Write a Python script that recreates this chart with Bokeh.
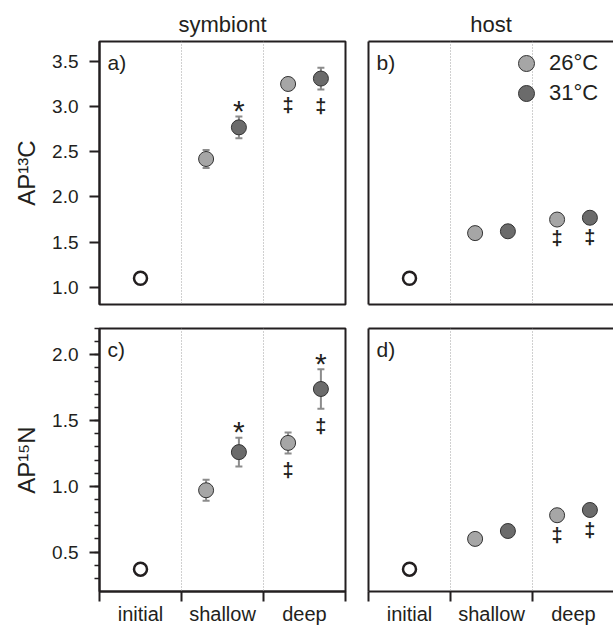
from bokeh.plotting import figure
from bokeh.layouts import column, row
from bokeh.models import (Range1d, Span, Label, LinearAxis, FixedTicker, PrintfTickFormatter,
                          SingleIntervalTicker, Legend, LegendItem)
from bokeh.core.properties import value
from bokeh.embed import file_html
from bokeh.resources import INLINE

# ---------------- data ----------------
groups = ["initial", "shallow", "deep"]
temps = ["26°C", "31°C"]
compartments = ["symbiont", "host"]
panel_tags = ["a)", "b)", "c)", "d)"]
ylabels = ["AP¹³C", "AP¹⁵N"]

# AP13C, symbiont (shallow, deep)
c_sym_initial = 1.10
c_sym_26 = [2.42, 3.25]
c_sym_26_err = [0.10, 0.04]
c_sym_31 = [2.77, 3.31]
c_sym_31_err = [0.12, 0.12]
# AP13C, host
c_host_initial = 1.10
c_host_26 = [1.60, 1.75]
c_host_26_err = [0.02, 0.02]
c_host_31 = [1.62, 1.77]
c_host_31_err = [0.02, 0.02]
# AP15N, symbiont
n_sym_initial = 0.37
n_sym_26 = [0.97, 1.33]
n_sym_26_err = [0.08, 0.08]
n_sym_31 = [1.26, 1.74]
n_sym_31_err = [0.11, 0.15]
# AP15N, host
n_host_initial = 0.37
n_host_26 = [0.60, 0.78]
n_host_26_err = [0.02, 0.02]
n_host_31 = [0.66, 0.82]
n_host_31_err = [0.02, 0.02]

# significance marks (shallow, deep): * = 31 vs 26, ‡ = deep vs shallow
c_sym_star31 = ["*", ""]
c_sym_dag26 = ["", "‡"]
c_sym_dag31 = ["", "‡"]
c_host_star31 = ["", ""]
c_host_dag26 = ["", "‡"]
c_host_dag31 = ["", "‡"]
n_sym_star31 = ["*", "*"]
n_sym_dag26 = ["", "‡"]
n_sym_dag31 = ["", "‡"]
n_host_star31 = ["", ""]
n_host_dag26 = ["", "‡"]
n_host_dag31 = ["", "‡"]

c_yrange = (0.81, 3.72)
n_yrange = (0.20, 2.20)

# ---------------- style ----------------
FONT = "Liberation Sans"
INK = "#231f20"
FILL26 = "#a6a6a6"
FILL31 = "#6b6b6b"
ERRC = "#8c8c8c"
DOT = "#a0a0a0"
OFFSET = 0.2
GROUP_PX = 82
FRAME_H = 263


def line_axis():
    return LinearAxis(ticker=FixedTicker(ticks=[]), axis_line_color=INK, axis_line_width=2,
                      major_tick_out=0, major_tick_in=0, minor_tick_out=0, minor_tick_in=0,
                      major_label_standoff=0, major_label_text_font_size="0px")


def make_panel(initial, m26, e26, m31, e31, star31, dag26, dag31, yr, left, top, tag,
               title, ylabel, minor, frame_w):
    p = figure(frame_width=frame_w, frame_height=FRAME_H,
               x_range=Range1d(0, frame_w / GROUP_PX), y_range=Range1d(*yr),
               output_backend="svg", toolbar_location=None,
               x_axis_location=None, y_axis_location=None,
               min_border_left=99 if left else 13, min_border_right=10 if left else 0,
               min_border_top=41 if top else 12, min_border_bottom=12 if top else 35)
    p.grid.visible = False
    p.background_fill_color = "white"
    p.border_fill_color = "white"
    if left:
        p.outline_line_color = INK
        p.outline_line_width = 2
    else:
        p.outline_line_color = None
        p.add_layout(line_axis(), "left")
        p.add_layout(line_axis(), "above")
        if top:
            p.add_layout(line_axis(), "below")

    if top:
        p.title.text = title
        p.title.align = "center"
        p.title.text_font = FONT
        p.title.text_font_size = "22px"
        p.title.text_font_style = "normal"
        p.title.text_color = INK
        p.title.standoff = 9

    if left:
        yax = LinearAxis(
            ticker=SingleIntervalTicker(interval=0.5, num_minor_ticks=5),
            formatter=PrintfTickFormatter(format="%.1f"),
            axis_label=ylabel, axis_label_text_font=FONT, axis_label_text_font_size="24px",
            axis_label_text_font_style="normal", axis_label_text_color=INK,
            axis_label_standoff=9,
            major_label_text_font=FONT, major_label_text_font_size="19px",
            major_label_text_color=INK, major_label_standoff=11,
            major_tick_out=10, major_tick_in=0, major_tick_line_width=2,
            major_tick_line_color=INK,
            minor_tick_out=5, minor_tick_in=0, minor_tick_line_width=1.5,
            minor_tick_line_color=INK if minor else None,
            axis_line_color=INK, axis_line_width=2)
        p.add_layout(yax, "left")

    nb = len(groups)
    if not top:
        centers = [i + 0.5 for i in range(nb)]
        xax = LinearAxis(ticker=FixedTicker(ticks=centers, minor_ticks=list(range(nb + 1))),
                         major_label_overrides={c: g for c, g in zip(centers, groups)},
                         axis_line_color=INK, axis_line_width=2,
                         major_tick_out=0, major_tick_in=0, major_tick_line_color=None,
                         minor_tick_out=10, minor_tick_in=0, minor_tick_line_width=2,
                         minor_tick_line_color=INK,
                         major_label_text_font=FONT, major_label_text_font_size="20px",
                         major_label_text_color=INK, major_label_standoff=1)
        p.add_layout(xax, "below")

    for b in range(1, nb):
        p.add_layout(Span(location=b, dimension="height", line_color=DOT,
                          line_dash="1 2", line_width=1))

    x26 = [i + 0.5 - OFFSET for i in range(1, nb)]
    x31 = [i + 0.5 + OFFSET for i in range(1, nb)]

    for xs, m, e in ((x26, m26, e26), (x31, m31, e31)):
        lo = [a - b for a, b in zip(m, e)]
        hi = [a + b for a, b in zip(m, e)]
        p.segment(x0=xs, y0=lo, x1=xs, y1=hi, line_color=ERRC, line_width=2)
        p.scatter(x=xs + xs, y=lo + hi, marker="dash", size=7, line_color=ERRC,
                  line_width=2)

    p.scatter(x=[0.5], y=[initial], size=13, fill_color="white", line_color=INK,
              line_width=2.5)
    r26 = p.scatter(x=x26, y=m26, size=15, fill_color=FILL26, line_color="#333333",
                    line_width=1)
    r31 = p.scatter(x=x31, y=m31, size=15, fill_color=FILL31, line_color="#333333",
                    line_width=1)

    # significance marks
    p.text(x=x31, y=[a + b for a, b in zip(m31, e31)], text=star31,
           text_align="center", text_baseline="middle", y_offset=-6,
           text_font=value(FONT), text_font_size="30px", text_color=INK)
    for xs, m, e, marks in ((x26, m26, e26, dag26), (x31, m31, e31, dag31)):
        p.text(x=xs, y=[a - b for a, b in zip(m, e)], text=marks,
               text_align="center", text_baseline="middle", y_offset=17,
               text_font=value(FONT), text_font_size="20px", text_font_style="bold",
               text_color=INK)

    p.add_layout(Label(x=0, y=yr[1], x_offset=8, y_offset=-21, text=tag,
                       text_baseline="middle", text_font=FONT,
                       text_font_size="21px", text_color=INK))
    return p, r26, r31


pa, _, _ = make_panel(c_sym_initial, c_sym_26, c_sym_26_err, c_sym_31, c_sym_31_err,
                      c_sym_star31, c_sym_dag26, c_sym_dag31, c_yrange, True, True,
                      panel_tags[0], compartments[0], ylabels[0], False, 246)
pb, rb26, rb31 = make_panel(c_host_initial, c_host_26, c_host_26_err, c_host_31,
                            c_host_31_err, c_host_star31, c_host_dag26, c_host_dag31,
                            c_yrange, False, True, panel_tags[1], compartments[1], None,
                            False, 245)
pc, _, _ = make_panel(n_sym_initial, n_sym_26, n_sym_26_err, n_sym_31, n_sym_31_err,
                      n_sym_star31, n_sym_dag26, n_sym_dag31, n_yrange, True, False,
                      panel_tags[2], None, ylabels[1], True, 246)
pd_, _, _ = make_panel(n_host_initial, n_host_26, n_host_26_err, n_host_31, n_host_31_err,
                       n_host_star31, n_host_dag26, n_host_dag31, n_yrange, False, False,
                       panel_tags[3], None, None, True, 245)

# legend: one entry per Legend so the 16px swatches sit 30px apart
for lab, rend, vy in ((temps[0], rb26, 221), (temps[1], rb31, 191)):
    pb.add_layout(Legend(items=[LegendItem(label=lab, renderers=[rend])],
                         location=(138, vy), glyph_width=40, glyph_height=40,
                         label_standoff=3, padding=0, margin=0, border_line_color=None,
                         background_fill_alpha=0, label_text_font=FONT,
                         label_text_font_size="22px", label_text_color=INK,
                         label_height=40))

layout = column(row(pa, pb), row(pc, pd_))
open("out.html", "w").write(file_html(layout, INLINE))
